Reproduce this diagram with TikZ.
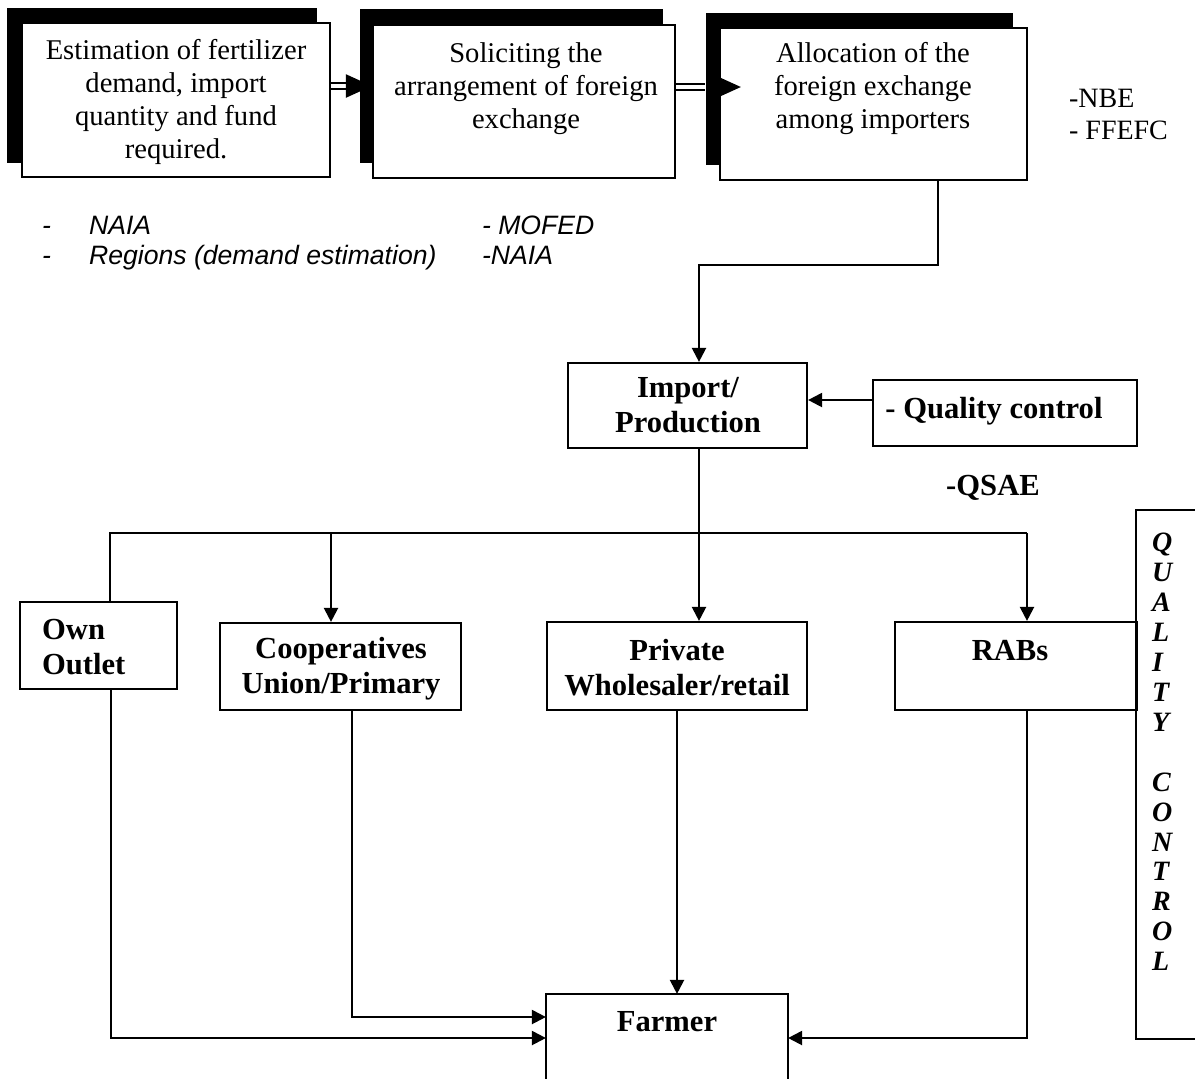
\documentclass[tikz,border=0pt]{standalone}
\usepackage{fontspec}
\setmainfont{Liberation Serif}
\newfontfamily\arialfont{Liberation Sans}
\usetikzlibrary{arrows.meta,fit,calc}

\begin{document}
\begin{tikzpicture}[x=0.5pt,y=-0.5pt,
  line width=1.1pt,
  boxframe/.style={draw, fill=white, inner sep=0pt},
  backplate/.style={fill=black, inner sep=0pt},
  toptext/.style={align=center, inner sep=0pt, font=\fontsize{14.3}{16.5}\selectfont},
  boldtext/.style={align=center, inner sep=0pt, font=\fontsize{15.3}{17.5}\selectfont\bfseries},
  note/.style={anchor=base west, inner sep=0pt, font=\arialfont\itshape\fontsize{13.3}{15}\selectfont},
  agency/.style={anchor=base west, inner sep=0pt, font=\fontsize{14}{16}\selectfont},
  arr/.style={-{Triangle[length=7pt,width=7pt]}},
  bigtip/.style={-{Triangle[length=13pt,width=11.5pt]}},
  dline/.style={double, double distance=2pt, line width=0.9pt},
]
\useasboundingbox (0,0) rectangle (1195,1078);

% --- planning chain: three raised boxes ---
\node[backplate, fit={(7,8) (317,163)}] (s1) {};
\node[boxframe, fit={(22,23) (330,177)}] (b1) {};
\node[toptext] (t1) at (176,102) {Estimation of fertilizer\\demand, import\\quantity and fund\\required.};

\node[backplate, fit={(360,9) (663,163)}] (s2) {};
\node[boxframe, fit={(373,25) (675,178)}] (b2) {};
\node[toptext] (t2) at (526,89) {Soliciting the\\arrangement of foreign\\exchange};

\node[backplate, fit={(706,13) (1013,165)}] (s3) {};
\node[boxframe, fit={(720,28) (1027,180)}] (b3) {};
\node[toptext] (t3) at (873,89) {Allocation of the\\foreign exchange\\among importers};

% double arrows between the planning steps
\draw[dline, shorten >=12pt] (b1.east |- 0,86) -- (b2.west |- 0,86);
\draw[bigtip] ($(b2.west |- 0,86)+(-4,0)$) -- (b2.west |- 0,86);
\draw[dline] (b2.east |- 0,87) -- (s3.west |- 0,87);
\draw[bigtip] ($(b3.west |- 0,87)+(18,0)$) -- ($(b3.west |- 0,87)+(22,0)$);

% responsible bodies
\node[note] (d1) at (41,234) {-};
\node[note] (d2) at (41,264) {-};
\node[note] (naia1) at (88,234) {NAIA};
\node[note] (reg) at (88,264) {Regions (demand estimation)};
\node[note] (mofed) at (481,234) {- MOFED};
\node[note] (naia2) at (481,264) {-NAIA};
\node[agency] (nbe) at (1068,107) {-NBE};
\node[agency] (ffefc) at (1068,139) {- FFEFC};

% --- import and quality control ---
\node[boxframe, fit={(568,363) (807,448)}] (imp) {};
\node[boldtext] (timp) at (688,405) {Import/\\Production};
\node[boxframe, fit={(873,380) (1137,446)}] (qc) {};
\node[boldtext] (tqc) at (994,411) {- Quality control};
\node[boldtext] (qsae) at (993,488) {-QSAE};

\coordinate (k1) at (938,265);
\draw[arr] (b3.south -| k1) -- (k1) -| (imp.north -| 699,0);
\draw[arr] (qc.west |- 0,400) -- (imp.east |- 0,400);

% --- distribution channels ---
\node[boxframe, fit={(20,602) (177,689)}] (own) {};
\node[boldtext, align=left, anchor=west] (town) at (41,647) {Own\\Outlet};
\node[boxframe, fit={(220,623) (461,710)}] (coop) {};
\node[boldtext] (tcoop) at (341,669) {Cooperatives\\Union/Primary};
\node[boxframe, fit={(547,622) (807,710)}] (priv) {};
\node[boldtext] (tpriv) at (677,668) {Private\\Wholesaler/retail};
\node[boxframe, fit={(895,622) (1137,710)}] (rabs) {};
\node[boldtext] (trabs) at (1010,651) {RABs};

\coordinate (busL) at (110,533);
\coordinate (busR) at (1027,533);
\draw (own.north -| busL) -- (busL) -- (busR);
\draw[arr] (busR) -- (rabs.north -| busR);
\draw[arr] (busL -| 331,0) -- (coop.north -| 331,0);
\draw[arr] (imp.south -| 699,0) -- (priv.north -| 699,0);

% --- farmer ---
\node[fit={(547,995) (787,1078)}, inner sep=0pt] (farmer) {};
\draw (farmer.south west) -- (farmer.north west) -- (farmer.north east) -- (farmer.south east);
\node[boldtext] (tfarmer) at (667,1022) {Farmer};

\draw[arr] (own.south -| 111,0) |- (farmer.west |- 0,1038);
\draw[arr] (coop.south -| 352,0) |- (farmer.west |- 0,1017);
\draw[arr] (priv.south -| 677,0) -- (farmer.north -| 677,0);
\draw[arr] (rabs.south -| 1027,0) |- (farmer.east |- 0,1038);

% --- quality control band on the right ---
\node[fit={(1137,511) (1195,1038)}, inner sep=0pt] (qband) {};
\draw (qband.north east) -- (qband.north west) -- (qband.south west) -- (qband.south east);
\node[align=left, anchor=west, inner sep=0pt, font=\fontsize{14}{14.96}\selectfont\bfseries\itshape] (tqband) at (1151,752)
  {Q\\U\\A\\L\\I\\T\\Y\\[14.96pt]C\\O\\N\\T\\R\\O\\L};
\end{tikzpicture}
\end{document}
